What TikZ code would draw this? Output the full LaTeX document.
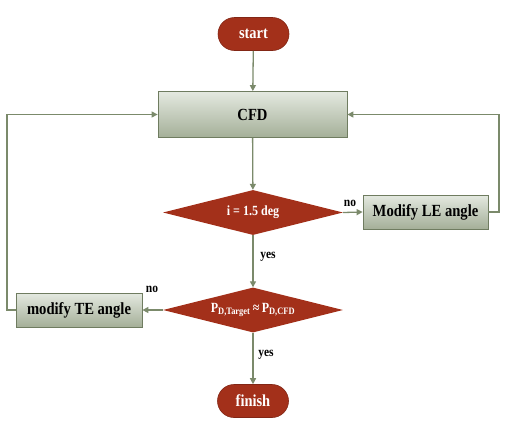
\documentclass[tikz,border=0pt]{standalone}
\usepackage{fontspec}
\setmainfont{Liberation Serif}
\newfontfamily\nf[FakeStretch=0.86]{Liberation Serif}
\usetikzlibrary{shapes.geometric,arrows.meta}
\definecolor{termred}{HTML}{A3301A}
\definecolor{boxtop}{HTML}{E4E9E0}
\definecolor{boxbot}{HTML}{A4AF98}
\definecolor{boxline}{HTML}{6F7C60}
\definecolor{conn}{HTML}{7B8A6B}
\tikzset{
  term/.style={rectangle, rounded corners=16.5pt, fill=termred, draw=termred!80!black, line width=0.6pt,
    text=white, font=\nf\bfseries\fontsize{16.8}{18}\selectfont, minimum width=71pt, minimum height=33pt, inner sep=0pt},
  procbox/.style={rectangle, top color=boxtop, bottom color=boxbot, draw=boxline, line width=0.8pt,
    text=black, font=\nf\bfseries\fontsize{17}{18}\selectfont, inner sep=0pt},
  decide/.style={diamond, shape aspect=4, fill=termred, draw=none, text=white,
    font=\nf\bfseries\fontsize{14}{16}\selectfont, minimum width=180pt, minimum height=45pt, inner sep=0pt},
  conline/.style={draw=conn, line width=1.3pt, -{Triangle[length=6pt,width=6pt]}},
  lbl/.style={font=\nf\bfseries\fontsize{13.4}{15}\selectfont, text=black, inner sep=0pt}
}
\begin{document}
\begin{tikzpicture}[x=1pt,y=-1pt]
\useasboundingbox (0,0) rectangle (510,426);
\node[term] (start) at (253.5,34) {start};
\node[procbox, minimum width=189pt, minimum height=46pt] (cfd) at (252.5,114.5) {CFD};
\node[decide] (d1) at (253,212.5) {i = 1.5 deg};
\node[procbox, minimum width=125pt, minimum height=34pt] (le) at (425.5,212) {Modify LE angle};
\node[decide] (d2) at (253,310) {P\textsubscript{D,Target}\,≈\,P\textsubscript{D,CFD}};
\node[procbox, minimum width=126pt, minimum height=34pt] (te) at (79,310) {modify TE angle};
\node[term] (finish) at (253,401) {finish};
\coordinate (rc) at (499,212);
\coordinate (lc) at (7,310);
\draw[conline] (start) -- (cfd);
\draw[conline] (cfd) -- (d1);
\draw[conline] (d1.east) -- (le.west);
\draw[conline] (le.east) -- (rc) |- (cfd.east);
\draw[conline] (d1.south) -- (d2.north);
\draw[conline] (d2.west) -- (te.east);
\draw[conline] (te.west) -- (lc) |- (cfd.west);
\draw[conline] (d2.south) -- (finish.north);
\node[lbl] (no1) at (350,203) {no};
\node[lbl] (yes1) at (268,257) {yes};
\node[lbl] (no2) at (152,289) {no};
\node[lbl] (yes2) at (266,355) {yes};
\end{tikzpicture}
\end{document}
